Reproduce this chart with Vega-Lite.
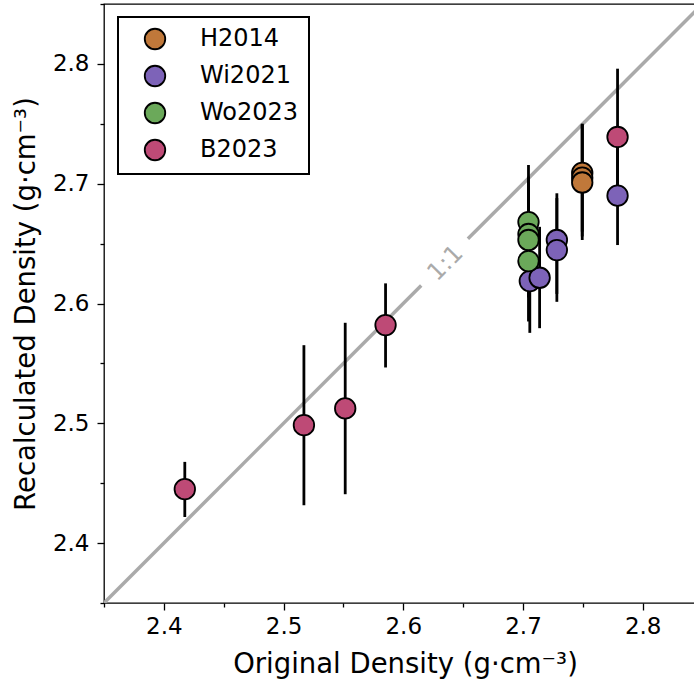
{
  "$schema": "https://vega.github.io/schema/vega-lite/v6.json",
  "width": 591,
  "height": 599,
  "autosize": {"type": "none"},
  "padding": {"left": 104, "top": 4, "right": 0, "bottom": 77},
  "background": "white",
  "config": {
    "view": {"stroke": "black", "strokeWidth": 1.3},
    "font": "DejaVu Sans",
    "axis": {
      "domain": false,
      "grid": false,
      "tickColor": "black",
      "tickWidth": 1.3,
      "labelFont": "DejaVu Sans",
      "labelFontSize": 23,
      "labelColor": "black",
      "titleFont": "DejaVu Sans",
      "titleFontSize": 27.5,
      "titleFontWeight": "normal",
      "titleColor": "black"
    },
    "legend": {
      "strokeColor": "black",
      "strokeWidth": 2,
      "fillColor": "white",
      "padding": 10,
      "cornerRadius": 0,
      "symbolType": "circle",
      "symbolSize": 420,
      "symbolStrokeColor": "black",
      "symbolStrokeWidth": 1.8,
      "symbolOpacity": 1,
      "symbolOffset": 15,
      "labelOffset": 33,
      "labelFontSize": 24,
      "labelFont": "DejaVu Sans",
      "labelColor": "black",
      "rowPadding": 9
    }
  },
  "datasets": {
    "diag": [
      {"x": 2.35, "y": 2.35, "xe": 2.615, "ye": 2.615},
      {"x": 2.654, "y": 2.654, "xe": 2.85, "ye": 2.85}
    ],
    "lbl": [
      {"x": 2.6355, "y": 2.6335, "t": "1:1"}
    ],
    "pts": [
      {"study": "H2014", "x": 2.7495, "y": 2.709, "lo": 2.660, "hi": 2.750},
      {"study": "H2014", "x": 2.7495, "y": 2.705, "lo": 2.656, "hi": 2.750},
      {"study": "H2014", "x": 2.7495, "y": 2.701, "lo": 2.653, "hi": 2.749},
      {"study": "Wi2021", "x": 2.7057, "y": 2.6187, "lo": 2.5755, "hi": 2.662},
      {"study": "Wi2021", "x": 2.7139, "y": 2.6215, "lo": 2.5794, "hi": 2.664},
      {"study": "Wi2021", "x": 2.7283, "y": 2.653, "lo": 2.608, "hi": 2.692},
      {"study": "Wi2021", "x": 2.7283, "y": 2.6446, "lo": 2.6014, "hi": 2.688},
      {"study": "Wi2021", "x": 2.779, "y": 2.690, "lo": 2.6488, "hi": 2.731},
      {"study": "Wo2023", "x": 2.7046, "y": 2.668, "lo": 2.620, "hi": 2.7156},
      {"study": "Wo2023", "x": 2.7046, "y": 2.658, "lo": 2.610, "hi": 2.706},
      {"study": "Wo2023", "x": 2.7046, "y": 2.653, "lo": 2.605, "hi": 2.701},
      {"study": "Wo2023", "x": 2.7046, "y": 2.6354, "lo": 2.585, "hi": 2.685},
      {"study": "B2023", "x": 2.4175, "y": 2.445, "lo": 2.4218, "hi": 2.4678},
      {"study": "B2023", "x": 2.517, "y": 2.4984, "lo": 2.4316, "hi": 2.5652},
      {"study": "B2023", "x": 2.5515, "y": 2.5124, "lo": 2.4408, "hi": 2.5839},
      {"study": "B2023", "x": 2.5852, "y": 2.582, "lo": 2.5466, "hi": 2.6168},
      {"study": "B2023", "x": 2.779, "y": 2.739, "lo": 2.682, "hi": 2.796}
    ]
  },
  "layer": [
    {
      "data": {"name": "diag"},
      "mark": {"type": "rule", "color": "#aaaaaa", "strokeWidth": 3.5, "clip": true},
      "encoding": {
        "x": {
          "field": "x", "type": "quantitative",
          "scale": {"domain": [2.35, 2.8437], "nice": false, "zero": false},
          "title": "Original Density (g·cm⁻³)",
          "axis": {
            "values": [2.35, 2.4, 2.45, 2.5, 2.55, 2.6, 2.65, 2.7, 2.75, 2.8, 2.85],
            "labelExpr": "abs(datum.value*10 - round(datum.value*10)) < 0.01 ? format(datum.value, '.1f') : ''",
            "tickSize": {"condition": {"test": "abs(datum.value*10 - round(datum.value*10)) > 0.01", "value": 4}, "value": 7},
            "labelPadding": 5,
            "titlePadding": 12,
            "titleX": 301
          }
        },
        "y": {
          "field": "y", "type": "quantitative",
          "scale": {"domain": [2.35, 2.85], "nice": false, "zero": false},
          "title": "Recalculated Density (g·cm⁻³)",
          "axis": {
            "values": [2.35, 2.4, 2.45, 2.5, 2.55, 2.6, 2.65, 2.7, 2.75, 2.8, 2.85],
            "labelExpr": "abs(datum.value*10 - round(datum.value*10)) < 0.01 ? format(datum.value, '.1f') : ''",
            "tickSize": {"condition": {"test": "abs(datum.value*10 - round(datum.value*10)) > 0.01", "value": 4}, "value": 7},
            "labelPadding": 8,
            "titlePadding": 12
          }
        },
        "x2": {"field": "xe"},
        "y2": {"field": "ye"}
      }
    },
    {
      "data": {"name": "lbl"},
      "mark": {"type": "text", "angle": 315, "align": "center", "baseline": "middle", "fontSize": 24, "color": "#aaaaaa", "font": "DejaVu Sans"},
      "encoding": {
        "x": {"field": "x", "type": "quantitative"},
        "y": {"field": "y", "type": "quantitative"},
        "text": {"field": "t"}
      }
    },
    {
      "data": {"name": "pts"},
      "mark": {"type": "rule", "color": "black", "strokeWidth": 2.8},
      "encoding": {
        "x": {"field": "x", "type": "quantitative"},
        "y": {"field": "lo", "type": "quantitative"},
        "y2": {"field": "hi"}
      }
    },
    {
      "data": {"name": "pts"},
      "mark": {"type": "point", "filled": true, "size": 420, "stroke": "black", "strokeWidth": 1.8, "opacity": 1},
      "encoding": {
        "x": {"field": "x", "type": "quantitative"},
        "y": {"field": "y", "type": "quantitative"},
        "color": {
          "field": "study", "type": "nominal",
          "scale": {"domain": ["H2014", "Wi2021", "Wo2023", "B2023"], "range": ["#C0783A", "#7D63B8", "#6BA95A", "#BE4A76"]},
          "legend": {
            "title": null,
            "orient": "none",
            "legendX": 14,
            "legendY": 13
          }
        }
      }
    }
  ]
}
